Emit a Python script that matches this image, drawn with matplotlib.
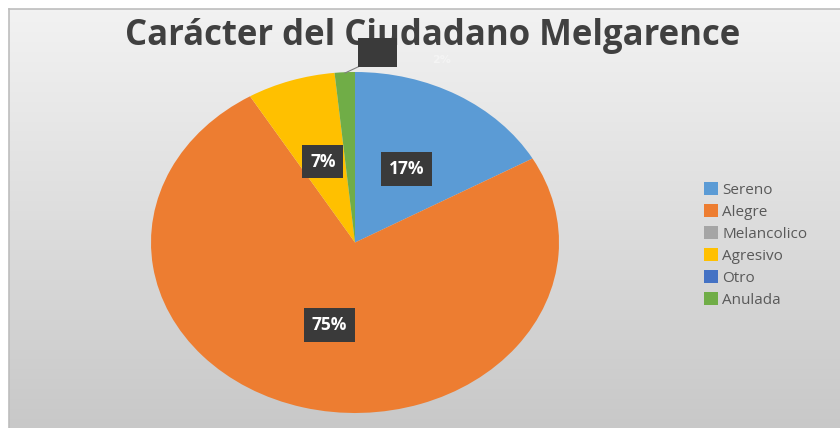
import numpy as np
import matplotlib
matplotlib.use("Agg")
import matplotlib.pyplot as plt

# data
categorias = ["Sereno", "Alegre", "Melancolico", "Agresivo", "Otro", "Anulada"]
porcentajes = [16.8, 74.6, 0.0, 7.0, 0.0, 1.6]
colores = ["#5B9BD5", "#ED7D31", "#A5A5A5", "#FFC000", "#4472C4", "#70AD47"]
titulo = "Carácter del Ciudadano Melgarence"

W, H = 840, 428
fig = plt.figure(figsize=(W / 100, H / 100), dpi=100)
fig.patch.set_facecolor("white")

# gray gradient background with the thin line at top/left
bg = fig.add_axes([9 / W, 0, 1 - 9 / W, 1 - 9 / H])
grad = np.linspace(0.95, 0.785, 256).reshape(-1, 1)
bg.imshow(np.repeat(grad, 3, axis=1)[:, :, None].repeat(3, axis=2),
          aspect="auto", extent=[0, 1, 0, 1], origin="upper")
bg.set_xticks([])
bg.set_yticks([])
for s in ["bottom", "right"]:
    bg.spines[s].set_visible(False)
for s in ["top", "left"]:
    bg.spines[s].set_color("#bdbdbd")
    bg.spines[s].set_linewidth(1.2)

# pie, stretched into an ellipse like the reference
ax = fig.add_axes([151 / W, 15 / H, 408 / W, 341 / H])
ax.patch.set_visible(False)


def etiqueta(p):
    return "%.0f%%" % p if p >= 3 else ""


wedges, _, autotexts = ax.pie(porcentajes, colors=colores, startangle=90,
                              counterclock=False, autopct=etiqueta,
                              pctdistance=0.5,
                              wedgeprops=dict(linewidth=0))
ax.set_aspect("auto")
ax.set_xlim(-1, 1)
ax.set_ylim(-1, 1)
for t in autotexts:
    t.set_color("white")
    t.set_fontsize(12.5)
    t.set_fontweight("bold")
    t.set_family("Open Sans")
    if t.get_text():
        t.set_bbox(dict(boxstyle="square,pad=0.45", facecolor="#3a3a3a",
                        edgecolor="none"))

# label box of the small slice, pushed up over the title
fig.patches.append(plt.Rectangle((358 / W, 1 - 67 / H), 39 / W, 29 / H,
                                 transform=fig.transFigure,
                                 facecolor="#3a3a3a", edgecolor="none",
                                 zorder=5))
fig.add_artist(plt.Line2D([345 / W, 360 / W], [1 - 73 / H, 1 - 66 / H],
                          transform=fig.transFigure, color="#7f7f7f",
                          linewidth=0.8, zorder=5))
fig.text(442 / W, 1 - 60 / H, "%.0f%%" % porcentajes[5], color="#f4f4f4",
         fontsize=8, fontweight="bold", ha="center", va="center", zorder=6)

fig.text(0.515, 1 - 36 / H, titulo, ha="center", va="center",
         fontsize=25, fontweight="bold", color="#404040", family="Open Sans",
         zorder=4)

leg = fig.legend(wedges, categorias, loc="upper left",
                 bbox_to_anchor=(698 / W, 1 - 176 / H), frameon=False,
                 handlelength=0.9, handleheight=0.9, handletextpad=0.3,
                 labelspacing=0.42, borderaxespad=0,
                 prop=dict(family="Open Sans", size=11))
for t in leg.get_texts():
    t.set_color("#595959")

fig.savefig("out.png", dpi=100)
